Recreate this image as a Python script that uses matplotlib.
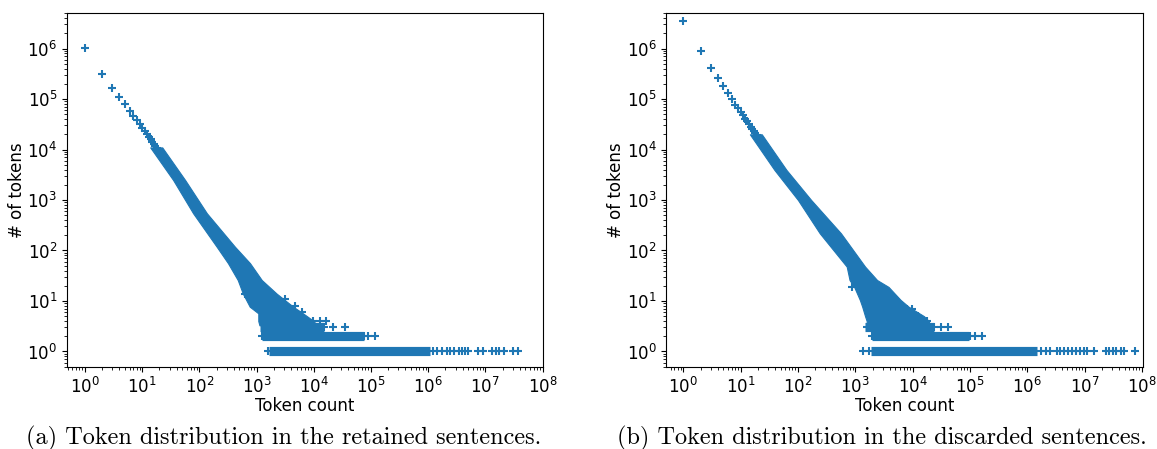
import numpy as np
import matplotlib
matplotlib.use("Agg")
import matplotlib.pyplot as plt
from matplotlib.ticker import LogLocator, NullFormatter

BLUE = "#1f77b4"

# ---------------- (a) retained sentences ----------------
a_head_count = [1, 2, 3, 4, 5, 6, 7, 8, 9, 10, 11, 12, 13, 14, 15, 16, 17, 18, 19, 20]
a_head_tokens = [1.04e6, 3.08e5, 1.63e5, 1.08e5, 7.85e4, 5.78e4, 4.57e4, 3.84e4,
                 3.18e4, 2.69e4, 2.32e4, 2.02e4, 1.78e4, 1.58e4, 1.41e4,
                 1.28e4, 1.16e4, 1.06e4, 9.66e3, 8.9e3]
# dense part of the cloud: for each "# of tokens" level, left/right token count
a_band_tokens = [1.1e4, 2490, 546, 119, 56, 26, 14, 7.7, 5.7, 4, 3.3]
a_band_count_lo = [13.8, 34.7, 77.6, 200, 316, 468, 575, 759, 1070, 1070, 1120]
a_band_count_hi = [22.4, 56.2, 135, 417, 767, 1230, 2240, 4370, 6460, 10000, 11200]
# integer rows at the bottom (dense ranges)
a_rows_tokens = [3, 2, 1]
a_rows_count_lo = [1150, 1230, 1660]
a_rows_count_hi = [14800, 74100, 1.07e6]
# isolated points
a_sparse_count = [631, 3160, 4680, 6170, 9770, 12900, 16600,
                  14800, 21900, 35500,
                  74100, 89100, 117500, 1230, 1410,
                  1580,
                  1.23e6, 1.45e6, 1.74e6, 2.09e6, 2.40e6, 2.82e6, 3.39e6, 3.89e6, 4.37e6,
                  5.01e6, 7.52e6, 8.91e6, 1.29e7, 1.51e7, 1.74e7, 2.09e7, 3.09e7, 3.76e7]
a_sparse_tokens = [14, 11, 8, 6, 4, 4, 4,
                   3, 3, 3,
                   2, 2, 2, 2, 2,
                   1,
                   1, 1, 1, 1, 1, 1, 1, 1, 1,
                   1, 1, 1, 1, 1, 1, 1, 1, 1]

# ---------------- (b) discarded sentences ----------------
b_head_count = [1, 2, 3, 4, 5, 6, 7, 8, 9, 10, 11, 12, 13, 14, 15, 16, 17, 18, 19, 20]
b_head_tokens = [3.5e6, 9.0e5, 4.2e5, 2.6e5, 1.8e5, 1.33e5, 9.8e4, 7.6e4,
                 6.65e4, 5.57e4, 4.76e4, 4.11e4, 3.6e4, 3.18e4, 2.83e4,
                 2.55e4, 2.3e4, 2.09e4, 1.91e4, 1.75e4]
b_band_tokens = [2.0e4, 3930, 1000, 219, 48, 26, 19, 10.5, 7.7, 5, 4, 3.3]
b_band_count_lo = [14.5, 38.9, 100, 240, 708, 794, 955, 1200, 1320, 1480, 1580, 1580]
b_band_count_hi = [23.4, 63.1, 170, 562, 1480, 2400, 3800, 6170, 8510, 15800, 19100, 20000]
b_rows_tokens = [3, 2, 1]
b_rows_count_lo = [1480, 1950, 1860]
b_rows_count_hi = [24000, 95500, 1.48e6]
b_sparse_count = [871, 2240, 3310, 3800, 5620, 7940, 9770, 12600, 17800,
                  24000, 31600, 41700, 1580,
                  100000, 123000, 162000, 1950, 2200,
                  1380, 1700,
                  1.70e6, 2.09e6, 2.51e6, 3.24e6, 3.72e6, 4.37e6, 5.13e6, 6.03e6, 6.92e6,
                  8.32e6, 9.77e6, 1.12e7, 1.48e7, 2.34e7, 2.69e7, 3.16e7, 3.47e7, 4.27e7,
                  4.90e7, 7.59e7]
b_sparse_tokens = [19, 18, 15, 10, 8, 7, 7, 5, 4,
                   3, 3, 3, 3,
                   2, 2, 2, 2, 2,
                   1, 1,
                   1, 1, 1, 1, 1, 1, 1, 1, 1,
                   1, 1, 1, 1, 1, 1, 1, 1, 1,
                   1, 1]

x_ticklabels = ["$10^{%d}$" % i for i in range(0, 9)]
y_ticklabels = ["$10^{%d}$" % i for i in range(0, 7)]

captions = ["(a) Token distribution in the retained sentences.",
            "(b) Token distribution in the discarded sentences."]

W, H = 1157, 449
fig = plt.figure(figsize=(W / 100, H / 100), dpi=100)

MS = 28        # marker area
ROW_LW = 6.6   # thickness of dense integer rows (pt)
FS = 12


def draw(ax, head_x, head_y, band_y, band_lo, band_hi, rows_y, rows_lo, rows_hi,
         sp_x, sp_y, xlim):
    ax.set_xscale("log")
    ax.set_yscale("log")
    ax.fill_betweenx(band_y, band_lo, band_hi, color=BLUE, lw=0.8,
                     edgecolor=BLUE)
    ax.hlines(rows_y, rows_lo, rows_hi, colors=BLUE, lw=ROW_LW)
    ax.scatter(head_x, head_y, marker="+", s=MS, color=BLUE, linewidths=1.5)
    ax.scatter(sp_x, sp_y, marker="+", s=MS, color=BLUE, linewidths=1.5)
    ax.xaxis.set_minor_locator(LogLocator(base=10, subs=np.arange(2, 10), numticks=30))
    ax.xaxis.set_minor_formatter(NullFormatter())
    ax.yaxis.set_minor_locator(LogLocator(base=10, subs=np.arange(2, 10), numticks=30))
    ax.yaxis.set_minor_formatter(NullFormatter())
    ax.set_xticks([10.0 ** i for i in range(9)])
    ax.set_xticklabels(x_ticklabels)
    ax.set_yticks([10.0 ** i for i in range(7)])
    ax.set_yticklabels(y_ticklabels)
    ax.set_xlim(*xlim)
    ax.set_ylim(10 ** -0.307, 10 ** 6.709)
    ax.tick_params(labelsize=FS)
    ax.set_xlabel("Token count", fontsize=FS, labelpad=0)
    ax.set_ylabel("# of tokens", fontsize=FS, labelpad=1)


ax1 = fig.add_axes([67 / W, 1 - 367 / H, (543.3 - 67) / W, (367 - 12.7) / H])
draw(ax1, a_head_count, a_head_tokens, a_band_tokens, a_band_count_lo, a_band_count_hi,
     a_rows_tokens, a_rows_count_lo, a_rows_count_hi, a_sparse_count, a_sparse_tokens,
     (10 ** -0.315, 10 ** 8.012))

ax2 = fig.add_axes([666.3 / W, 1 - 367 / H, (1142.7 - 666.3) / W, (367 - 12.7) / H])
draw(ax2, b_head_count, b_head_tokens, b_band_tokens, b_band_count_lo, b_band_count_hi,
     b_rows_tokens, b_rows_count_lo, b_rows_count_hi, b_sparse_count, b_sparse_tokens,
     (10 ** -0.296, 10 ** 8.012))

fig.text(284 / W, 1 - 438 / H, captions[0], ha="center", va="center",
         fontfamily="cmr10", fontsize=17.5)
fig.text(882 / W, 1 - 438 / H, captions[1], ha="center", va="center",
         fontfamily="cmr10", fontsize=17.5)

fig.savefig("out.png", dpi=100)
